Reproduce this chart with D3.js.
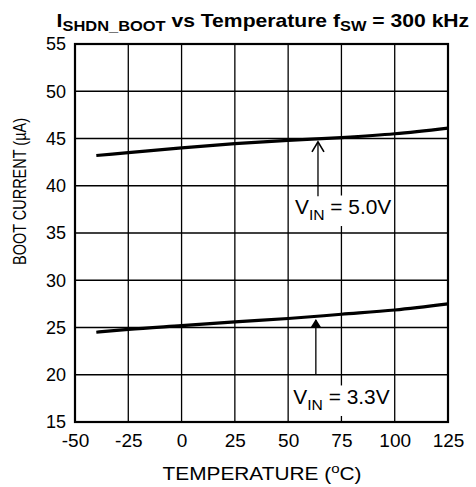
<!DOCTYPE html>
<html>
<head>
<meta charset="utf-8">
<script src="https://cdn.jsdelivr.net/npm/d3@7"></script>
<style>
  body { margin: 0; background: #fff; }
  text { font-family: "Liberation Sans", Arial, sans-serif; fill: #000; }
</style>
</head>
<body>
<div id="chart"></div>
<script>
// Data
var temps = [-40, -25, 0, 25, 50, 75, 100, 125];
var vin50 = [43.2, 43.5, 44.0, 44.45, 44.8, 45.1, 45.5, 46.1];
var vin33 = [24.5, 24.8, 25.2, 25.6, 25.95, 26.4, 26.85, 27.5];

var xTicks = [-50, -25, 0, 25, 50, 75, 100, 125];
var yTicks = [15, 20, 25, 30, 35, 40, 45, 50, 55];

// Callouts: label, arrow x (temp), arrow tip/tail (uA), text centre and baseline
var notes = [
  {volts: "5.0V", temp: 64, tip: 44.75, tail: 38.9, tx: 75.8, ty: 37.0, open: true},
  {volts: "3.3V", temp: 63, tip: 26.0, tail: 20.0, tx: 75, ty: 16.9, open: false}
];

// Margin convention
var margin = {top: 44, right: 28, bottom: 65, left: 75};
var W = 476, H = 487;
var width = W - margin.left - margin.right;
var height = H - margin.top - margin.bottom;

var root = d3.select("#chart").append("svg")
    .attr("width", W)
    .attr("height", H);

var svg = root.append("g")
    .attr("transform", "translate(" + margin.left + "," + margin.top + ")");

// stretch a text horizontally so it spans tw px around cx
function fit(t, cx, tw) {
  var w = t.node().getBBox().width;
  var s = tw / w;
  t.attr("transform", "translate(" + cx + ",0) scale(" + s + ",1) translate(" + (-cx) + ",0)");
  return t;
}

// Scales
var x = d3.scaleLinear().domain([-50, 125]).range([0, width]);
var y = d3.scaleLinear().domain([15, 55]).range([height, 0]);

// Grid
var grid = svg.append("g").attr("stroke", "#000").attr("stroke-width", 1.3);
grid.selectAll(".gx").data(xTicks.slice(1, -1)).enter().append("line")
    .attr("x1", d => x(d)).attr("x2", d => x(d))
    .attr("y1", 0).attr("y2", height);
grid.selectAll(".gy").data(yTicks.slice(1, -1)).enter().append("line")
    .attr("y1", d => y(d)).attr("y2", d => y(d))
    .attr("x1", 0).attr("x2", width);

// Curves
var line = d3.line()
    .x(d => x(d[0]))
    .y(d => y(d[1]))
    .curve(d3.curveMonotoneX);

[vin50, vin33].forEach(function(s) {
  svg.append("path")
     .datum(temps.map((t, i) => [t, s[i]]))
     .attr("fill", "none")
     .attr("stroke", "#000")
     .attr("stroke-width", 3.2)
     .attr("d", line);
});

// Callouts
notes.forEach(function(n) {
  var g = svg.append("g");
  var box = g.append("rect").attr("fill", "#fff");
  var t = g.append("text")
      .attr("x", x(n.tx))
      .attr("y", y(n.ty))
      .attr("text-anchor", "middle")
      .style("font-size", "20px");
  t.append("tspan").text("V");
  t.append("tspan").attr("dy", 6).style("font-size", "15px").text("IN");
  t.append("tspan").attr("dy", -6).text(" = " + n.volts);
  fit(t, x(n.tx), 97);
  var bb = t.node().getBBox();
  box.attr("x", x(n.tx) - 50).attr("y", bb.y)
     .attr("width", 100).attr("height", bb.height + 3);

  var ax = x(n.temp), ay = y(n.tip);
  g.append("line")
   .attr("x1", ax).attr("x2", ax)
   .attr("y1", ay + 2).attr("y2", y(n.tail))
   .attr("stroke", "#000").attr("stroke-width", 1.3);
  if (n.open) {
    g.append("path")
     .attr("d", "M" + (ax - 6) + "," + (ay + 11) + "L" + ax + "," + (ay + 1) + "L" + (ax + 6) + "," + (ay + 11))
     .attr("fill", "none").attr("stroke", "#000").attr("stroke-width", 1.6);
  } else {
    g.append("path")
     .attr("d", "M" + (ax - 5) + "," + (ay + 9) + "L" + ax + "," + (ay + 1) + "L" + (ax + 5) + "," + (ay + 9) + "Z")
     .attr("fill", "#000");
  }
});

// Frame
svg.append("rect")
   .attr("width", width).attr("height", height)
   .attr("fill", "none").attr("stroke", "#000").attr("stroke-width", 2.2);

// Axes (labels only)
var xAxis = svg.append("g")
   .attr("transform", "translate(0," + height + ")")
   .call(d3.axisBottom(x).tickValues(xTicks).tickSize(0).tickPadding(12).tickFormat(d => String(d)));
var yAxis = svg.append("g")
   .call(d3.axisLeft(y).tickValues(yTicks).tickSize(0).tickPadding(9).tickFormat(d => String(d)));
[xAxis, yAxis].forEach(function(a) {
  a.select(".domain").remove();
  a.selectAll("text").attr("font-family", null).attr("font-size", null);
});
xAxis.selectAll("text").style("font-size", "19px");
yAxis.selectAll("text").style("font-size", "18px");

// Axis titles
var xt = root.append("text")
   .attr("x", 262).attr("y", 480)
   .attr("text-anchor", "middle")
   .style("font-size", "18px");
xt.append("tspan").text("TEMPERATURE (");
xt.append("tspan").attr("dy", -7).style("font-size", "13px").text("o");
xt.append("tspan").attr("dy", 7).text("C)");
fit(xt, 262, 199);

var yt = root.append("g")
   .attr("transform", "translate(26,191.5) rotate(-90)")
   .append("text")
   .attr("text-anchor", "middle")
   .style("font-size", "18px")
   .text("BOOT CURRENT (µA)");
fit(yt, 0, 147);

// Title
var title = root.append("text")
   .attr("x", 263).attr("y", 27)
   .attr("text-anchor", "middle")
   .style("font-size", "18px")
   .style("font-weight", "bold");
title.append("tspan").text("I");
title.append("tspan").attr("dy", 4).style("font-size", "14px").text("SHDN_BOOT");
title.append("tspan").attr("dy", -4).text(" vs Temperature f");
title.append("tspan").attr("dy", 4).style("font-size", "14px").text("SW");
title.append("tspan").attr("dy", -4).text(" = 300 kHz");
fit(title, 263.5, 413);
</script>
</body>
</html>
